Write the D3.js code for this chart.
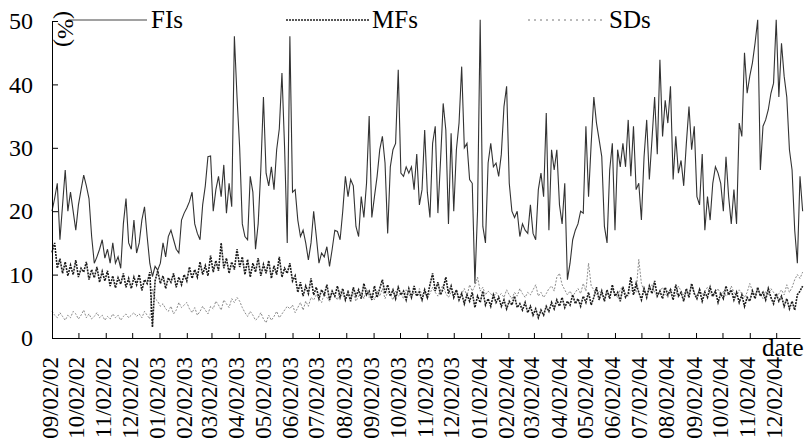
<!DOCTYPE html>
<html>
<head>
<meta charset="utf-8">
<script src="https://cdn.jsdelivr.net/npm/d3@7"></script>
<style>
  body { margin: 0; background: #fff; }
  svg { display: block; }
</style>
</head>
<body>
<div id="chart"></div>
<script>
// series start and spacing (one reading every 3 calendar days)
var startLabel = "09/02/02";
var stepDays = 3;

var seriesNames = ["FIs", "MFs", "SDs"];

var fisValues = [
  20, 22, 24.4, 15.5, 21, 26.5, 20, 23, 20, 17,
  21, 23.4, 25.7, 24, 22, 16, 11.8, 12.8, 14, 15.5,
  12.6, 14, 11.8, 15, 11.8, 12.8, 11, 18, 22, 15,
  14, 18.6, 13.4, 15, 18.6, 20.7, 16, 11.8, 9.7, 11.3,
  10.7, 11.8, 15, 12.8, 16, 17, 15.5, 14, 13.4, 18.6,
  19.7, 20.5, 21.5, 23, 18, 16.5, 15.5, 21, 24, 28.6,
  28.7, 20, 23.4, 25.5, 22.3, 27.3, 19.7, 24.4, 20.7, 47.6,
  38, 30, 18, 16, 15.5, 25.5, 23, 14, 18, 26.5,
  38, 26, 24, 27, 23.4, 29.7, 33, 41.8, 30, 15,
  47.6, 23, 23.4, 18.6, 16, 17, 15, 12.3, 15, 20,
  16, 11.8, 13.4, 12.8, 14.4, 11.3, 14, 17, 16.8, 15.5,
  20, 25.5, 22.3, 25, 24, 17.6, 16, 22.3, 19, 24.4,
  35, 19, 22.3, 25.5, 29.7, 31.8, 27.6, 16.5, 27, 29.7,
  30.7, 42.3, 26, 25.5, 27, 26, 27, 23.4, 29, 21,
  23.4, 32.8, 23, 19, 30.7, 33.4, 19.7, 28, 37, 32.8,
  18, 32.3, 20, 29.7, 33.9, 42.8, 30, 30.7, 25, 24.4,
  8.6, 20, 50.2, 17.6, 15, 27.6, 30.7, 27, 27.6, 25.5,
  29, 36.5, 39.7, 24.4, 20, 19, 20, 16, 18, 17,
  16.5, 21, 16.5, 15.5, 23.4, 26, 22.3, 35.5, 17, 29.7,
  26.5, 29.7, 21, 18, 24.4, 9.2, 11.8, 15.5, 17, 18,
  20, 19.7, 33.4, 22.3, 30.7, 38, 33.9, 31.3, 28.6, 17.6,
  15, 26.5, 30.7, 17, 29.7, 27, 30.7, 27, 34.4, 25.5,
  33.4, 23.4, 24.4, 18.6, 28.6, 34.4, 25, 31.3, 38, 29,
  43.9, 31.8, 37.5, 33.9, 39.7, 25, 31.8, 26, 28, 24,
  30.7, 36.5, 29.7, 33.4, 22.3, 21, 29, 17, 22.3, 18.6,
  24.4, 27, 26, 24.4, 20, 28.6, 22.3, 18, 23.4, 18,
  33.9, 31.8, 45, 38.6, 41.3, 43.4, 46.5, 50.2, 26.5, 33.4,
  34.4, 36, 38.6, 40.2, 50.2, 38, 46.5, 41.3, 38, 29.7,
  26.5, 17, 11.8, 25.5, 20
];

var mfsValues = [
  13.5, 15, 11, 12.5, 10.2, 12, 9.8, 11.5, 10, 12.3,
  9.6, 11, 10.4, 12, 9.2, 10.8, 9.5, 11.2, 8.8, 10.5,
  9, 10.6, 8.2, 9.8, 7.9, 9.5, 8.5, 10.2, 8, 9.4,
  7.8, 9.6, 8.4, 10, 7.5, 9.2, 8.6, 10.4, 1.7, 9,
  10.6, 8.6, 9.8, 7.8, 9.5, 8.8, 10.2, 8, 9.6, 8.4,
  10, 9, 11.2, 9.4, 10.8, 9.6, 12, 10, 11.4, 9.8,
  13, 10.4, 12.2, 10.6, 15, 11, 12.6, 10.2, 12, 10.8,
  14, 11.2, 12.8, 10, 12.4, 9.6, 11.8, 10.4, 12.6, 9.8,
  11.6, 10.2, 12.2, 9.4, 11.4, 10, 12.8, 9.6, 11, 10.2,
  11.8, 9, 9.8, 7.2, 8.8, 6.6, 8.2, 7, 9.4, 6.8,
  8, 6.2, 7.6, 6.8, 8.4, 6, 7.4, 6.6, 8.2, 6.4,
  7.8, 6, 7.2, 5.8, 8, 6.6, 7.6, 6.2, 8.6, 6.8,
  7.4, 6, 8.2, 6.4, 7.8, 9.2, 7, 8.4, 6.6, 7.6,
  6.2, 8, 6.8, 7.4, 6, 7.8, 6.4, 8.2, 6.6, 7.2,
  6, 7.6, 6.4, 8.4, 10.2, 7.4, 8.8, 6.8, 7.8, 9.6,
  7, 8.2, 6.4, 7.6, 6, 7, 5.4, 6.8, 5.8, 7.2,
  4.8, 6.6, 5.6, 7.4, 5.2, 6.2, 5, 6.8, 5.6, 6.4,
  5, 6, 4.6, 5.8, 5.2, 6.6, 4.8, 5.4, 4.4, 5.6,
  4, 5, 3.6, 4.6, 3.2, 4.4, 3.6, 5, 4.2, 5.6,
  4.6, 6, 5, 6.4, 4.8, 5.8, 5.2, 6.8, 5.4, 6.2,
  5, 6.6, 5.6, 7.2, 5.2, 6.4, 8, 6, 7.4, 5.8,
  7.6, 6.2, 8.4, 6.6, 7.2, 5.8, 8, 6.4, 7, 9.6,
  6.8, 8.6, 7.2, 6, 7.8, 6.4, 8.2, 7, 9, 6.6,
  7.4, 6.2, 8, 6.8, 7.6, 6, 8.4, 6.6, 7.2, 5.8,
  7.8, 6.4, 8.6, 7, 6.2, 7.6, 5.8, 7.2, 6.4, 8,
  6.6, 7.4, 5.6, 7, 6.2, 8.2, 6.8, 7.6, 6, 7.2,
  5.6, 6.8, 5, 6.4, 5.8, 7.4, 6.2, 8, 6.6, 7.2,
  6, 7.8, 6.4, 5.4, 7, 5.8, 6.6, 5, 6.2, 4.6,
  5.8, 4.4, 6.8, 7.4, 8.2
];

var sdsValues = [
  4.2, 3.6, 3.2, 4, 3.4, 2.8, 3.6, 3.2, 4.2, 3.8,
  3, 3.6, 4.4, 3.2, 3.8, 3, 3.4, 4, 3.2, 3.6,
  2.8, 3.4, 3, 3.8, 3.2, 3.6, 2.8, 3.4, 3.8, 3.2,
  3.6, 4, 3.4, 3.8, 3.2, 4.2, 3.6, 3, 7.8, 6.2,
  5.8, 5, 5.4, 4.6, 4.2, 5, 3.8, 4.4, 5.6, 4.8,
  5.2, 5.6, 4.6, 4, 4.8, 3.6, 4.2, 5, 4.4, 3.8,
  5, 4.6, 5.8, 5.2, 4.4, 6, 5.4, 4.8, 6.2, 5.6,
  6.4, 5.8, 4.8, 4, 3.4, 4.2, 3.6, 2.8, 3.2, 4,
  3, 2.4, 3.6, 2.8, 3.4, 4.2, 3.2, 3.8, 4.4, 5,
  4.6, 5.2, 4, 4.8, 5.6, 4.4, 5.8, 5, 6.4, 6,
  6.8, 6.2, 5.6, 7, 6.4, 5.8, 7.2, 6.6, 6, 7.4,
  6.8, 6.2, 7.6, 6.4, 7, 5.8, 6.6, 7.2, 6.2, 7.8,
  6.4, 7, 6, 7.4, 6.6, 7.8, 6.2, 7.2, 6.8, 6,
  7.4, 6.6, 7, 6.2, 7.6, 6.8, 6.4, 7.2, 6.6, 7.8,
  6.8, 7.4, 6.2, 7, 8, 7.2, 6.6, 7.6, 8.4, 7,
  6.4, 7.2, 6.8, 7.6, 6.2, 7, 7.8, 6.6, 8.4, 7.4,
  8.2, 9.6, 7.4, 8, 6.8, 7.4, 7, 6.4, 7.2, 6.6,
  7, 6.4, 7.6, 6.8, 6.2, 7.2, 6.6, 7.8, 7, 6.4,
  7.2, 6.8, 7.6, 8.4, 6.6, 7.2, 6.4, 7, 7.8, 8.2,
  7.4, 9.6, 10.2, 8.4, 7.6, 6.8, 7.4, 6.6, 7.2, 7.8,
  7, 8.6, 7.4, 11.8, 8.2, 7.6, 6.8, 7.4, 7, 6.4,
  7.2, 6.6, 7.8, 7, 6.4, 7.6, 8.2, 7, 6.6, 7.4,
  8, 7.2, 12.4, 8.6, 7.4, 6.8, 7.6, 8.4, 7.2, 6.6,
  7.4, 8, 7, 6.4, 7.8, 7.2, 6.6, 8.2, 7.4, 6.8,
  7.6, 7, 8.4, 7.2, 6.6, 7.8, 6.8, 7.4, 8, 7,
  6.4, 7.2, 7.8, 6.8, 7.4, 6.6, 7, 8.2, 7.2, 6.6,
  7.6, 7, 6.4, 7.2, 8.6, 7.4, 6.8, 7.6, 7, 6.2,
  7.4, 6.8, 7.8, 7.2, 6.4, 7, 7.6, 6.8, 8.4, 7.2,
  8, 9.2, 10, 9.4, 10.4
];

var yTicks = [0, 10, 20, 30, 40, 50];
var xTickLabels = [
  "09/02/02", "10/02/02", "11/02/02", "12/02/02", "01/02/03", "02/02/03",
  "03/02/03", "04/02/03", "05/02/03", "06/02/03", "07/02/03", "08/02/03",
  "09/02/03", "10/02/03", "11/02/03", "12/02/03", "01/02/04", "02/02/04",
  "03/02/04", "04/02/04", "05/02/04", "06/02/04", "07/02/04", "08/02/04",
  "09/02/04", "10/02/04", "11/02/04", "12/02/04"
];

var parseDate = d3.timeParse("%m/%d/%y");
var fmtDate = d3.timeFormat("%m/%d/%y");
var serif = "Liberation Serif";

function buildChart() {
  var W = 805, H = 442;
  var margin = { top: 21, right: 5, bottom: 104, left: 52 };

  var startDate = parseDate(startLabel);
  var tickDates = xTickLabels.map(parseDate);
  // axis runs a little past the last tick
  var endDate = d3.timeDay.offset(tickDates[tickDates.length - 1], 27);

  var x = d3.scaleTime().domain([startDate, endDate]).range([margin.left, W - margin.right]);
  var y = d3.scaleLinear().domain([0, 50]).range([H - margin.bottom, margin.top]);

  function toPoints(vals) {
    return vals.map(function (v, i) {
      return { date: d3.timeDay.offset(startDate, i * stepDays), value: v };
    });
  }

  var svg = d3.select('#chart')
    .append('svg')
    .attr('width', W)
    .attr('height', H)
    .attr('font-family', serif);

  svg.append('rect').attr('width', W).attr('height', H).attr('fill', '#fff');

  var valueline = d3.line()
    .x(function (d) { return x(d.date); })
    .y(function (d) { return y(d.value); });

  // SDs (light dotted) underneath
  svg.append('path')
    .attr('class', 'line sds')
    .attr('fill', 'none')
    .attr('stroke', '#8a8a8a')
    .attr('stroke-width', 1)
    .attr('stroke-dasharray', '2,1.5')
    .attr('d', valueline(toPoints(sdsValues)));

  // MFs (dark hatched band)
  svg.append('path')
    .attr('class', 'line mfs')
    .attr('fill', 'none')
    .attr('stroke', '#1c1c1c')
    .attr('stroke-width', 1.6)
    .attr('stroke-dasharray', '2,1')
    .attr('d', valueline(toPoints(mfsValues)));

  // FIs (solid)
  svg.append('path')
    .attr('class', 'line fis')
    .attr('fill', 'none')
    .attr('stroke', '#333')
    .attr('stroke-width', 1.1)
    .attr('d', valueline(toPoints(fisValues)));

  // X axis
  var xAxis = d3.axisBottom(x)
    .tickValues(tickDates)
    .tickFormat(fmtDate)
    .tickSizeInner(-5)
    .tickSizeOuter(0);

  var gx = svg.append('g')
    .attr('class', 'x axis')
    .attr('transform', 'translate(0,' + y(0) + ')')
    .call(xAxis)
    .attr('font-family', serif)
    .attr('font-size', 23);
  gx.select('.domain').attr('stroke', '#000');
  gx.selectAll('.tick line').attr('stroke', '#000');
  gx.selectAll('.tick text')
    .attr('transform', 'rotate(-90)')
    .attr('text-anchor', 'end')
    .attr('x', -19)
    .attr('y', 5)
    .attr('dy', 0)
    .attr('fill', '#000');

  // Y axis
  var yAxis = d3.axisLeft(y)
    .tickValues(yTicks)
    .tickSizeInner(-6)
    .tickSizeOuter(0);

  var gy = svg.append('g')
    .attr('class', 'y axis')
    .attr('transform', 'translate(' + margin.left + ',0)')
    .call(yAxis)
    .attr('font-family', serif)
    .attr('font-size', 24);
  gy.select('.domain').attr('stroke', '#000');
  gy.selectAll('.tick line').attr('stroke', '#000');
  gy.selectAll('.tick text')
    .attr('x', -19)
    .attr('fill', '#000');

  // axis titles
  svg.append('text')
    .attr('transform', 'translate(58,29) rotate(90)')
    .attr('text-anchor', 'middle')
    .attr('font-size', 24)
    .text('(%)');

  svg.append('text')
    .attr('x', 762)
    .attr('y', 356)
    .attr('font-size', 25)
    .text('date');

  // legend
  var legend = [
    { name: seriesNames[0], x1: 68, x2: 147, tx: 151, stroke: '#444', width: 1.1, dash: null },
    { name: seriesNames[1], x1: 286, x2: 369, tx: 372, stroke: '#222', width: 1.6, dash: '2,1' },
    { name: seriesNames[2], x1: 528, x2: 604, tx: 609, stroke: '#777', width: 1, dash: '2,4' }
  ];
  var lg = svg.append('g').attr('class', 'legend');
  legend.forEach(function (d) {
    lg.append('line')
      .attr('x1', d.x1).attr('x2', d.x2)
      .attr('y1', 20).attr('y2', 20)
      .attr('stroke', d.stroke)
      .attr('stroke-width', d.width)
      .attr('stroke-dasharray', d.dash);
    lg.append('text')
      .attr('x', d.tx)
      .attr('y', 28)
      .attr('font-size', 25)
      .text(d.name);
  });
}

buildChart();
</script>
</body>
</html>
